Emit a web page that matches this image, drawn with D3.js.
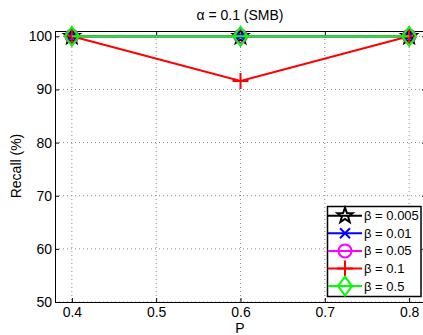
<!DOCTYPE html>
<html><head><meta charset="utf-8">
<script src="https://cdn.jsdelivr.net/npm/d3@7"></script>
<style>body{margin:0;background:#fff}svg{display:block;font-family:"Liberation Sans",Arial,sans-serif}</style>
</head><body><svg id="c" width="423" height="335"></svg>
<script>
const xValues = [0.4, 0.6, 0.8];
const xTicks = [0.4, 0.5, 0.6, 0.7, 0.8];
const yTicks = [50, 60, 70, 80, 90, 100];
const seriesNames = ["β = 0.005", "β = 0.01", "β = 0.05", "β = 0.1", "β = 0.5"];
const seriesColors = ["#000000", "#0000ff", "#ff00ff", "#ff0000", "#00ff00"];
const seriesMarkers = ["star", "x", "circle", "plus", "diamond"];
const recall005 = [100, 100, 100];
const recall01 = [100, 100, 100];
const recall05 = [100, 100, 100];
const recall1 = [100, 91.6, 100];
const recall5 = [100, 100, 100];
const seriesValues = [recall005, recall01, recall05, recall1, recall5];

const svg = d3.select("#c");
const L = 55, R = 426, T = 31, B = 302;
const x = d3.scaleLinear().domain([0.38, 0.82]).range([L, R]);
const y = d3.scaleLinear().domain([50, 101]).range([B, T]);

// grid
const g = svg.append("g");
g.selectAll(".gx").data(xTicks).enter().append("line")
  .attr("x1", d => x(d)).attr("x2", d => x(d)).attr("y1", T).attr("y2", B)
  .attr("stroke", "#888").attr("stroke-width", 1).attr("stroke-dasharray", "1,3");
g.selectAll(".gy").data(yTicks).enter().append("line")
  .attr("y1", d => y(d)).attr("y2", d => y(d)).attr("x1", L).attr("x2", R)
  .attr("stroke", "#888").attr("stroke-width", 1).attr("stroke-dasharray", "1,3");

// axes
const fs = "14px";
const xAxis = svg.append("g").attr("transform", `translate(0,${B})`)
  .call(d3.axisBottom(x).tickValues(xTicks).tickSize(-4).tickPadding(5).tickFormat(d3.format(".1f")));
const xAxisTop = svg.append("g").attr("transform", `translate(0,${T})`)
  .call(d3.axisTop(x).tickValues(xTicks).tickSize(-4).tickFormat(""));
const yAxis = svg.append("g").attr("transform", `translate(${L},0)`)
  .call(d3.axisLeft(y).tickValues(yTicks).tickSize(-4).tickPadding(3));
const yAxisR = svg.append("g").attr("transform", `translate(${R},0)`)
  .call(d3.axisRight(y).tickValues(yTicks).tickSize(-4).tickFormat(""));
[xAxis, xAxisTop, yAxis, yAxisR].forEach(a => {
  a.select(".domain").attr("stroke", "#000").attr("stroke-width", 1);
  a.selectAll(".tick line").attr("stroke", "#000");
  a.selectAll("text").attr("font-size", fs).attr("fill", "#000").attr("font-family", "Liberation Sans, Arial, sans-serif");
});

function marker(sel, type, color, s) {
  const k = s || 1;
  if (type === "star") {
    const pts = [];
    for (let i = 0; i < 10; i++) {
      const r = (i % 2 === 0 ? 8 : 3.3) * k;
      const a = -Math.PI / 2 + i * Math.PI / 5;
      pts.push([r * Math.cos(a), r * Math.sin(a)]);
    }
    sel.append("path").attr("d", "M" + pts.join("L") + "Z").attr("fill", "none").attr("stroke", color).attr("stroke-width", 2);
  } else if (type === "x") {
    const r = 5 * k;
    sel.append("path").attr("d", `M${-r},${-r}L${r},${r}M${-r},${r}L${r},${-r}`).attr("stroke", color).attr("stroke-width", 2);
  } else if (type === "circle") {
    sel.append("circle").attr("r", 6.5 * k).attr("fill", "none").attr("stroke", color).attr("stroke-width", 2);
  } else if (type === "plus") {
    const r = 8 * k;
    sel.append("path").attr("d", `M${-r},0L${r},0M0,${-r}L0,${r}`).attr("stroke", color).attr("stroke-width", 2);
  } else if (type === "diamond") {
    const w = 7 * k, h = 9.5 * k;
    sel.append("path").attr("d", `M0,${-h}L${w},0L0,${h}L${-w},0Z`).attr("fill", "none").attr("stroke", color).attr("stroke-width", 2);
  }
}

const line = d3.line().x((d, i) => x(xValues[i])).y(d => y(d));
const plot = svg.append("g");
seriesValues.forEach((vals, si) => {
  plot.append("path").datum(vals).attr("d", line).attr("fill", "none")
    .attr("stroke", seriesColors[si]).attr("stroke-width", 2);
  vals.forEach((v, i) => {
    const m = plot.append("g").attr("transform", `translate(${x(xValues[i])},${y(v)})`);
    marker(m, seriesMarkers[si], seriesColors[si]);
  });
});

// legend
const lg = svg.append("g");
const lx = 327.5, ly = 206.5, lw = 93.5, lh = 90;
lg.append("rect").attr("x", lx).attr("y", ly).attr("width", lw).attr("height", lh)
  .attr("fill", "#fff").attr("stroke", "#000").attr("stroke-width", 1.5);
seriesNames.forEach((n, i) => {
  const cy = 215.7 + i * 17.6;
  lg.append("line").attr("x1", 328).attr("x2", 362).attr("y1", cy).attr("y2", cy)
    .attr("stroke", seriesColors[i]).attr("stroke-width", 2);
  const m = lg.append("g").attr("transform", `translate(345,${cy})`);
  marker(m, seriesMarkers[i], seriesColors[i]);
  lg.append("text").attr("x", 364).attr("y", cy + 4.5).attr("font-size", "13px").text(n);
});

// titles
svg.append("text").attr("x", 240).attr("y", 20).attr("text-anchor", "middle").attr("font-size", "14px").text("α = 0.1 (SMB)");
svg.append("text").attr("x", 240).attr("y", 333).attr("text-anchor", "middle").attr("font-size", "14px").text("P");
svg.append("text").attr("transform", "translate(21,166) rotate(-90)").attr("text-anchor", "middle").attr("font-size", "14px").text("Recall (%)");
</script></body></html>
